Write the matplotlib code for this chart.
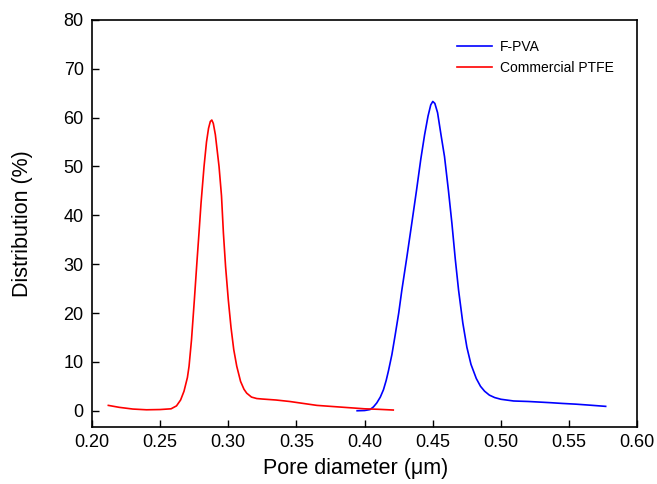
import numpy as np
import matplotlib.pyplot as plt

plt.rcParams['font.family'] = ['Liberation Sans', 'DejaVu Sans']

# Commercial PTFE (red)
ptfe_d = [0.212, 0.220, 0.230, 0.240, 0.250, 0.258, 0.262, 0.265, 0.2675, 0.270,
          0.2712, 0.273, 0.2751, 0.277, 0.2785, 0.280, 0.2822, 0.284, 0.2855, 0.2868,
          0.2879, 0.289, 0.2905, 0.2932, 0.295, 0.2964, 0.298, 0.300, 0.302, 0.304,
          0.3062, 0.309, 0.3115, 0.3135, 0.317, 0.3209, 0.325, 0.335, 0.345, 0.355,
          0.365, 0.375, 0.390, 0.400, 0.410, 0.421]
ptfe_v = [1.1, 0.7, 0.35, 0.2, 0.25, 0.4, 1.0, 2.2, 4.0, 6.8,
          9.1, 14.5, 22.7, 30.5, 36.4, 42.5, 50.0, 55.0, 57.8, 59.2,
          59.5, 58.8, 56.5, 50.0, 44.0, 36.4, 29.5, 22.7, 17.0, 12.5,
          9.1, 6.0, 4.4, 3.6, 2.8, 2.5, 2.4, 2.2, 1.9, 1.5,
          1.1, 0.9, 0.6, 0.4, 0.3, 0.15]

# F-PVA (blue)
fpva_d = [0.3945, 0.400, 0.404, 0.4065, 0.4089, 0.4115, 0.4138, 0.4158, 0.4175, 0.420,
          0.4224, 0.425, 0.4273, 0.431, 0.4346, 0.438, 0.4412, 0.444, 0.4465, 0.4485,
          0.450, 0.4515, 0.4535, 0.456, 0.4586, 0.4615, 0.464, 0.4665, 0.4689, 0.472,
          0.475, 0.478, 0.4819, 0.485, 0.488, 0.4915, 0.4954, 0.500, 0.5093, 0.520,
          0.530, 0.5365, 0.545, 0.555, 0.565, 0.5768]
fpva_v = [0.0, 0.05, 0.25, 0.8, 1.6, 2.8, 4.3, 6.2, 8.2, 11.5,
          15.5, 20.0, 24.7, 31.5, 38.4, 45.0, 51.5, 56.5, 60.3, 62.6,
          63.3, 62.9, 61.0, 56.5, 52.0, 45.0, 38.4, 31.0, 24.7, 18.0,
          13.0, 9.5, 6.6, 5.0, 4.0, 3.2, 2.7, 2.35, 2.0, 1.9,
          1.75, 1.65, 1.5, 1.35, 1.15, 0.9]

fig = plt.figure(figsize=(6.57, 4.84), dpi=100)
ax = fig.add_axes([0.140, 0.118, 0.830, 0.841])

ax.plot(fpva_d, fpva_v, color='#0000ff', lw=1.2, label='F-PVA')
ax.plot(ptfe_d, ptfe_v, color='#ff0000', lw=1.2, label='Commercial PTFE')

ax.set_xlim(0.20, 0.60)
ax.set_ylim(-3.3, 80)
ax.set_xticks(np.arange(0.20, 0.601, 0.05))
ax.set_yticks(np.arange(0, 81, 10))
ax.xaxis.set_major_formatter(plt.FormatStrFormatter('%.2f'))
ax.tick_params(direction='in', length=5, width=1, labelsize=13)
ax.tick_params(axis='y', pad=6)
ax.tick_params(axis='x', pad=5)
for s in ax.spines.values():
    s.set_linewidth(1.2)

ax.set_xlabel('Pore diameter (μm)', fontsize=15.5, labelpad=5, x=0.484)
ax.set_ylabel('Distribution (%)', fontsize=15.5, labelpad=22)

ax.legend(loc='upper right', frameon=False, fontsize=10, handlelength=2.5,
          handletextpad=0.6, borderaxespad=1.2, labelspacing=0.5,
          bbox_to_anchor=(0.998, 1.005))

fig.savefig('out.png', dpi=100)
